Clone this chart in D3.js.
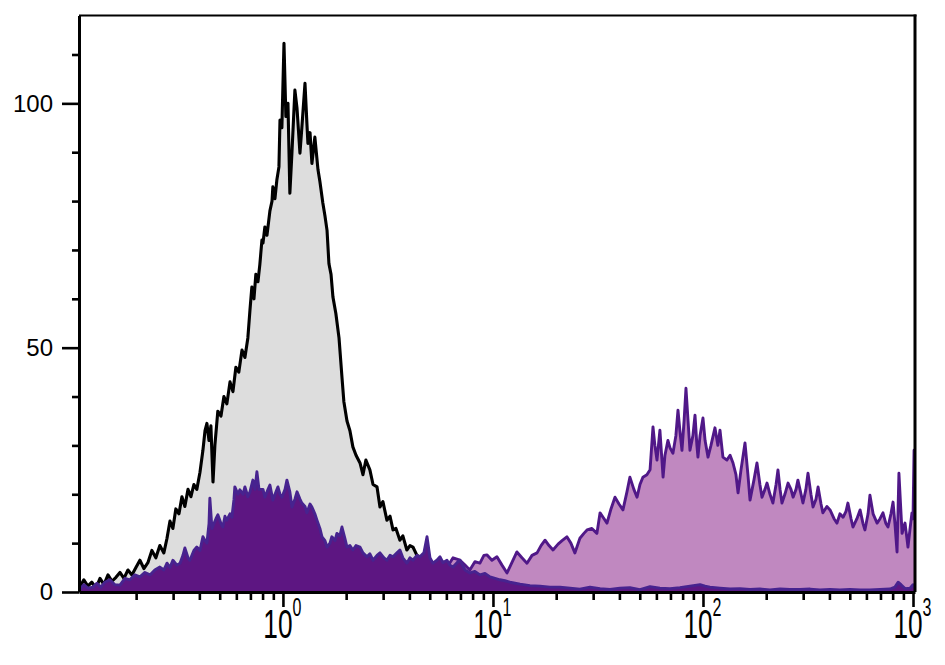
<!DOCTYPE html>
<html><head><meta charset="utf-8">
<script src="https://cdn.jsdelivr.net/npm/d3@7"></script>
<style>body{margin:0;background:#fff}svg{display:block}</style>
</head><body><svg id="chart" width="945" height="665"></svg>
<script>
// ---- DATA (x = log10 fluorescence intensity, y = event count) ----
const grayLog = [-0.971,-0.967,-0.948,-0.929,-0.910,-0.890,-0.871,-0.852,-0.833,-0.814,-0.795,-0.776,-0.757,-0.738,-0.719,-0.700,-0.681,-0.662,-0.643,-0.624,-0.605,-0.586,-0.567,-0.552,-0.538,-0.524,-0.510,-0.495,-0.481,-0.467,-0.452,-0.438,-0.424,-0.410,-0.395,-0.381,-0.371,-0.362,-0.352,-0.343,-0.333,-0.324,-0.310,-0.295,-0.281,-0.267,-0.252,-0.238,-0.224,-0.210,-0.195,-0.181,-0.167,-0.157,-0.148,-0.138,-0.129,-0.119,-0.110,-0.100,-0.095,-0.086,-0.076,-0.062,-0.052,-0.048,-0.038,-0.029,-0.019,-0.014,-0.005,0.005,0.014,0.024,0.033,0.043,0.057,0.067,0.081,0.090,0.105,0.114,0.119,0.129,0.138,0.152,0.167,0.176,0.190,0.200,0.210,0.219,0.229,0.238,0.252,0.267,0.281,0.290,0.305,0.319,0.333,0.348,0.367,0.381,0.395,0.414,0.429,0.448,0.462,0.476,0.495,0.510,0.524,0.538,0.557,0.571,0.590,0.605,0.619,0.638,0.652,0.671,0.690,0.710,0.729,0.748,0.771,0.795,0.843,0.890,0.938,0.986,1.033,1.129,1.271,1.510,1.986,2.462,3.010];
const grayCount = [0.5,1.0,2.5,1.2,2.0,0.8,2.8,1.5,3.5,2.2,3.0,4.0,2.8,4.5,3.5,5.0,6.5,4.8,6.0,8.5,7.0,9.5,8.0,11.0,14.5,13.0,17.0,16.0,19.5,17.5,21.0,19.5,22.0,21.0,24.5,29.0,33.0,34.5,31.0,34.0,22.5,30.0,37.0,36.0,40.0,38.5,43.0,41.0,46.0,45.0,49.5,48.0,52.0,57.7,62.4,60.0,65.0,63.5,67.0,72.0,71.4,74.7,73.0,78.0,80.0,82.9,80.5,84.3,87.0,96.6,95.0,112.3,97.3,100.0,81.6,90.0,102.7,99.0,89.8,95.0,104.1,96.0,91.8,94.0,87.7,93.1,86.4,84.0,79.6,77.0,74.0,67.2,65.0,60.4,57.0,52.0,44.0,39.0,35.0,33.0,29.7,28.0,26.4,24.0,27.0,25.0,22.0,21.5,17.4,18.5,14.7,15.5,12.7,13.0,10.6,11.5,8.6,9.5,9.2,7.5,7.2,6.0,6.8,5.0,5.5,4.0,4.5,3.0,2.5,2.0,1.5,1.2,1.0,0.6,0.3,0.2,0.1,0.1,0.1];

const lightLog = [-0.971,-0.871,-0.729,-0.586,-0.443,-0.300,-0.110,0.081,0.271,0.462,0.605,0.700,0.748,0.781,0.810,0.843,0.867,0.890,0.914,0.938,0.957,0.971,0.995,1.019,1.043,1.067,1.090,1.114,1.138,1.162,1.186,1.210,1.229,1.248,1.267,1.286,1.310,1.329,1.352,1.371,1.390,1.414,1.433,1.448,1.471,1.495,1.510,1.529,1.543,1.562,1.581,1.600,1.619,1.638,1.652,1.671,1.686,1.700,1.714,1.733,1.748,1.762,1.771,1.781,1.795,1.810,1.819,1.833,1.843,1.857,1.871,1.881,1.890,1.900,1.910,1.919,1.929,1.938,1.952,1.962,1.971,1.976,1.986,2.000,2.010,2.024,2.038,2.057,2.071,2.081,2.095,2.114,2.129,2.143,2.157,2.167,2.181,2.200,2.214,2.224,2.243,2.257,2.271,2.281,2.295,2.305,2.319,2.333,2.348,2.357,2.367,2.376,2.390,2.405,2.419,2.429,2.443,2.452,2.467,2.476,2.490,2.500,2.514,2.524,2.538,2.548,2.562,2.571,2.590,2.605,2.624,2.638,2.652,2.667,2.681,2.690,2.705,2.714,2.733,2.748,2.762,2.771,2.786,2.795,2.810,2.829,2.843,2.857,2.871,2.881,2.895,2.905,2.914,2.924,2.933,2.943,2.948,2.957,2.962,2.971,2.976,2.986,2.995,3.000,3.005,3.010];
const lightCount = [0.2,0.5,1.0,1.5,2.5,3.0,3.5,3.5,4.0,4.5,4.5,5.0,6.0,5.0,7.0,6.5,5.5,4.5,6.2,5.9,7.5,7.6,6.5,7.2,5.5,3.9,6.0,8.2,7.0,5.9,7.5,8.0,9.5,10.6,9.5,8.6,9.8,10.5,11.3,10.0,8.0,11.0,12.0,12.7,13.0,12.0,16.2,15.0,14.1,17.0,19.4,18.0,16.8,20.5,23.5,21.0,19.4,22.0,23.5,24.0,25.0,33.8,30.0,27.0,33.1,23.5,28.0,31.0,29.5,28.4,32.0,37.2,33.0,29.0,35.0,41.7,35.0,29.0,32.0,36.2,30.0,27.6,32.0,35.6,31.0,27.6,30.0,33.6,30.0,33.1,27.6,27.0,28.0,26.4,24.0,20.3,25.0,30.5,24.0,18.8,23.0,26.4,22.0,19.4,21.0,22.3,20.0,18.2,22.0,25.0,21.0,18.2,20.0,22.3,21.0,19.4,21.0,22.9,20.0,18.2,21.0,24.3,20.0,17.4,19.0,21.5,18.0,16.2,17.5,16.8,15.0,14.1,16.0,15.3,16.5,18.2,15.0,13.3,15.0,16.8,14.0,12.7,16.0,19.8,16.0,14.1,15.0,16.2,14.0,13.3,16.0,18.4,14.0,8.2,24.3,16.0,12.0,13.5,14.1,11.0,9.2,13.0,16.2,15.0,29.0,29.0];

const darkLog = [-0.971,-0.967,-0.948,-0.929,-0.905,-0.886,-0.867,-0.848,-0.824,-0.800,-0.776,-0.752,-0.729,-0.705,-0.681,-0.657,-0.633,-0.610,-0.586,-0.567,-0.552,-0.538,-0.524,-0.505,-0.490,-0.476,-0.467,-0.452,-0.443,-0.424,-0.410,-0.395,-0.381,-0.371,-0.362,-0.352,-0.348,-0.338,-0.319,-0.310,-0.295,-0.286,-0.276,-0.267,-0.252,-0.243,-0.233,-0.229,-0.214,-0.205,-0.190,-0.181,-0.167,-0.157,-0.143,-0.133,-0.124,-0.114,-0.095,-0.086,-0.071,-0.062,-0.048,-0.033,-0.024,-0.014,-0.005,0.010,0.019,0.033,0.043,0.057,0.067,0.081,0.090,0.105,0.114,0.129,0.138,0.152,0.162,0.176,0.186,0.200,0.210,0.224,0.233,0.248,0.257,0.271,0.281,0.295,0.305,0.319,0.333,0.348,0.367,0.381,0.400,0.414,0.429,0.448,0.462,0.481,0.495,0.510,0.524,0.543,0.557,0.571,0.590,0.605,0.619,0.638,0.652,0.671,0.686,0.700,0.714,0.733,0.748,0.762,0.781,0.795,0.810,0.829,0.843,0.867,0.890,0.914,0.938,0.962,0.986,1.010,1.033,1.057,1.081,1.105,1.129,1.176,1.224,1.271,1.319,1.367,1.414,1.462,1.510,1.557,1.605,1.652,1.700,1.748,1.795,1.843,1.890,1.938,1.986,2.010,2.033,2.081,2.129,2.176,2.224,2.271,2.319,2.367,2.414,2.462,2.510,2.557,2.605,2.652,2.700,2.748,2.795,2.843,2.890,2.914,2.929,2.943,2.962,2.986,3.000,3.010];
const darkCount = [0.3,0.5,1.5,0.8,1.0,1.8,1.0,2.0,2.5,1.5,1.4,2.8,2.5,3.5,3.1,4.0,3.5,4.5,5.1,4.5,5.9,5.0,6.5,5.5,5.9,7.5,9.0,7.0,6.5,8.5,9.2,8.5,11.3,10.5,10.0,14.0,19.2,13.0,15.0,15.8,14.0,13.3,15.5,14.7,16.0,15.3,19.0,21.5,20.0,20.9,20.0,21.5,19.5,20.5,22.9,21.0,24.6,21.0,21.0,19.4,21.0,21.9,18.8,20.5,21.5,20.0,19.4,21.0,22.9,20.5,17.4,19.0,20.5,19.0,18.2,17.5,16.2,18.0,17.4,16.0,14.7,13.0,11.3,10.5,9.2,10.0,11.3,10.5,12.0,11.5,13.3,11.0,9.2,9.5,8.6,9.5,9.2,8.0,7.2,7.8,6.5,7.5,8.0,7.0,6.5,7.5,7.2,8.0,8.6,7.0,5.9,7.0,6.5,7.5,7.2,8.0,11.3,7.0,5.9,6.5,7.2,6.0,6.5,5.5,5.1,6.0,6.5,4.5,3.9,4.2,3.5,3.8,3.1,2.8,2.5,2.3,2.0,1.8,1.6,1.3,1.2,1.0,1.0,0.8,0.6,1.0,0.7,0.5,0.8,0.9,0.5,1.1,0.8,0.7,0.9,1.2,1.5,1.2,1.0,0.8,0.6,0.7,0.5,0.6,0.4,0.6,0.5,0.5,0.6,0.4,0.5,0.4,0.5,0.4,0.4,0.5,0.6,1.0,2.0,1.5,0.7,0.8,1.5,1.0];

const yMajorTicks = [0, 50, 100];
const yMinorTicks = [10, 20, 30, 40, 60, 70, 80, 90, 110];
const xDecadeTicks = [1, 10, 100, 1000];
const xTickExponents = ["0", "1", "2", "3"];
const xDomainLog = [-0.971, 3.0095];
const yDomain = [0, 118];

// ---- CHART ----
const svg = d3.select("#chart");
svg.append("rect").attr("width", 945).attr("height", 665).attr("fill", "#fff");
const L = 79, R = 915, T = 15.4, B = 592;
const x = d3.scaleLog().domain(xDomainLog.map(v => Math.pow(10, v))).range([L, R]);
const y = d3.scaleLinear().domain(yDomain).range([B, T]);

svg.append("defs").append("clipPath").attr("id", "plotclip")
  .append("rect").attr("x", L).attr("y", T - 2).attr("width", R - L).attr("height", B - T + 2);

const series = [
  {lx: grayLog, v: grayCount, fill: "#dddddd", stroke: "#000000", sw: 3.1},
  {lx: lightLog, v: lightCount, fill: "#c088c0", stroke: "#501888", sw: 2.9},
  {lx: darkLog, v: darkCount, fill: "#5d1682", stroke: "#47238f", sw: 2.9}
];
const plot = svg.append("g").attr("clip-path", "url(#plotclip)");
series.forEach(s => {
  const pts = s.lx.map((l, i) => [Math.pow(10, l), s.v[i]]);
  const area = d3.area().x(d => x(d[0])).y0(y(0)).y1(d => y(d[1]));
  const line = d3.line().x(d => x(d[0])).y(d => y(d[1]));
  plot.append("path").datum(pts).attr("d", area).attr("fill", s.fill);
  plot.append("path").datum(pts).attr("d", line).attr("fill", "none")
    .attr("stroke", s.stroke).attr("stroke-width", s.sw).attr("stroke-linejoin", "round");
});

// frame: top thin, right thick
svg.append("line").attr("x1", L).attr("x2", R + 1.5).attr("y1", T).attr("y2", T)
  .attr("stroke", "#000").attr("stroke-width", 2);
svg.append("line").attr("x1", R).attr("x2", R).attr("y1", T - 1).attr("y2", B)
  .attr("stroke", "#000").attr("stroke-width", 3);

// y axis
const yAxisMajor = svg.append("g").attr("transform", `translate(${L},0)`)
  .call(d3.axisLeft(y).tickValues(yMajorTicks).tickSize(17).tickSizeOuter(0).tickPadding(9).tickFormat(d3.format("d")));
const yAxisMinor = svg.append("g").attr("transform", `translate(${L},0)`)
  .call(d3.axisLeft(y).tickValues(yMinorTicks).tickSize(7).tickSizeOuter(0).tickFormat(""));
yAxisMinor.select(".domain").remove();
[yAxisMajor, yAxisMinor].forEach(g => {
  g.selectAll(".tick line").attr("stroke", "#000").attr("stroke-width", 2.6);
});
yAxisMajor.select(".domain").attr("stroke", "#000").attr("stroke-width", 3);
yAxisMajor.selectAll(".tick text").attr("font-family", "'Liberation Sans', Arial, sans-serif")
  .attr("font-size", 24).attr("fill", "#000");

// x axis
const minorX = x.ticks().filter(v => Math.abs(Math.log10(v) - Math.round(Math.log10(v))) > 1e-6);
const xAxisMajor = svg.append("g").attr("transform", `translate(0,${B})`)
  .call(d3.axisBottom(x).tickValues(xDecadeTicks).tickSize(15).tickSizeOuter(0).tickFormat(""));
const xAxisMinor = svg.append("g").attr("transform", `translate(0,${B})`)
  .call(d3.axisBottom(x).tickValues(minorX).tickSize(8).tickSizeOuter(0).tickFormat(""));
xAxisMinor.select(".domain").remove();
xAxisMajor.select(".domain").attr("stroke", "#000").attr("stroke-width", 3);
[xAxisMajor, xAxisMinor].forEach(g => {
  g.selectAll(".tick line").attr("stroke", "#000").attr("stroke-width", 2.6);
});

// decade labels 10^n
const labels = svg.append("g");
xDecadeTicks.forEach((v, i) => {
  const g = labels.append("g").attr("transform", `translate(${x(v)},638) scale(0.64,1)`);
  g.append("text").attr("x", 15).attr("y", 0).attr("text-anchor", "end")
    .attr("font-family", "'Liberation Sans', Arial, sans-serif").attr("font-size", 41).attr("fill", "#000")
    .text("10");
  g.append("text").attr("x", 15).attr("y", -22).attr("text-anchor", "start")
    .attr("font-family", "'Liberation Sans', Arial, sans-serif").attr("font-size", 25).attr("fill", "#000")
    .text(xTickExponents[i]);
});
</script></body></html>
